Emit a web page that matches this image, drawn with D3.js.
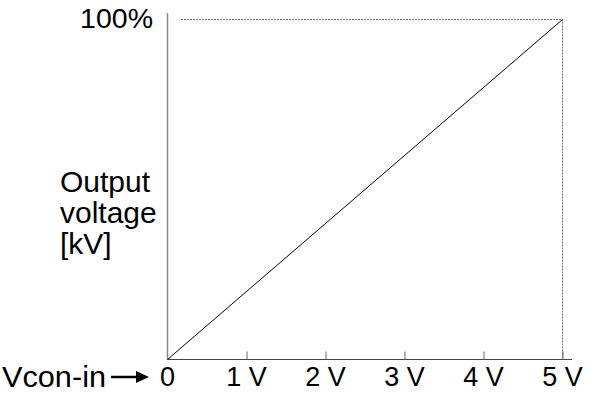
<!DOCTYPE html>
<html><head><meta charset="utf-8">
<script src="https://cdn.jsdelivr.net/npm/d3@7"></script>
<style>html,body{margin:0;padding:0;background:#fff;}svg{display:block;}</style>
</head><body>
<svg id="c" width="600" height="400"></svg>
<script>
const inputVolts = [0, 5];
const outputPct = [0, 100];
const xTickValues = [0, 1, 2, 3, 4, 5];
const xTickLabels = ["0", "1 V", "2 V", "3 V", "4 V", "5 V"];
const yTickLabel = "100%";
const yTitleLines = ["Output", "voltage", "[kV]"];
const xTitle = "Vcon-in";

const svg = d3.select("#c");
const font = "Arial, 'Liberation Sans', sans-serif";
const x = d3.scaleLinear().domain([0, 5]).range([167.5, 562.5]);
const y = d3.scaleLinear().domain([0, 100]).range([359.5, 19.5]);

// dotted guide lines
svg.append("line").attr("x1", 181).attr("x2", x(5)).attr("y1", y(100)).attr("y2", y(100))
  .attr("stroke", "#777").attr("stroke-width", 1).attr("stroke-dasharray", "2,1");
svg.append("line").attr("x1", x(5)).attr("x2", x(5)).attr("y1", y(100)).attr("y2", y(0))
  .attr("stroke", "#777").attr("stroke-width", 1).attr("stroke-dasharray", "2,1");

// y axis line
svg.append("line").attr("x1", x(0)).attr("x2", x(0)).attr("y1", 13).attr("y2", y(0))
  .attr("stroke", "#888").attr("stroke-width", 1.5);

// x axis
const xAxis = d3.axisBottom(x).tickValues(xTickValues.slice(1)).tickSize(-8).tickFormat("");
const gx = svg.append("g").attr("transform", `translate(0,${y(0)})`).call(xAxis);
gx.select(".domain").attr("d", `M${x(0)},0H572`).attr("stroke", "#444").attr("stroke-width", 1);
gx.selectAll(".tick line").attr("stroke", "#666");

// tick labels
svg.selectAll("text.xt").data(xTickValues).enter().append("text")
  .attr("class", "xt").attr("x", d => x(d)).attr("y", 386)
  .attr("text-anchor", "middle").attr("font-family", font).attr("font-size", 27)
  .attr("fill", "#000").text((d, i) => xTickLabels[i]);

svg.append("text").attr("x", 153).attr("y", 28).attr("text-anchor", "end")
  .attr("font-family", font).attr("font-size", 28.5).text(yTickLabel);

// y title
svg.selectAll("text.yt").data(yTitleLines).enter().append("text")
  .attr("class", "yt").attr("x", 60).attr("y", (d, i) => 192 + i * 31)
  .attr("font-family", font).attr("font-size", 30).text(d => d);

// x title with arrow
svg.append("text").attr("x", 2).attr("y", 387).attr("font-family", font)
  .attr("font-size", 30).attr("textLength", 104).attr("lengthAdjust", "spacingAndGlyphs").text(xTitle);
svg.append("line").attr("x1", 111).attr("x2", 138).attr("y1", 377).attr("y2", 377)
  .attr("stroke", "#000").attr("stroke-width", 2.5);
svg.append("path").attr("d", "M136,371 L149,377 L136,383 Z").attr("fill", "#000");

// data line
const line = d3.line().x(d => x(d[0])).y(d => y(d[1]));
svg.append("path").datum(inputVolts.map((v, i) => [v, outputPct[i]]))
  .attr("d", line).attr("fill", "none").attr("stroke", "#000").attr("stroke-width", 1);
</script>
</body></html>
